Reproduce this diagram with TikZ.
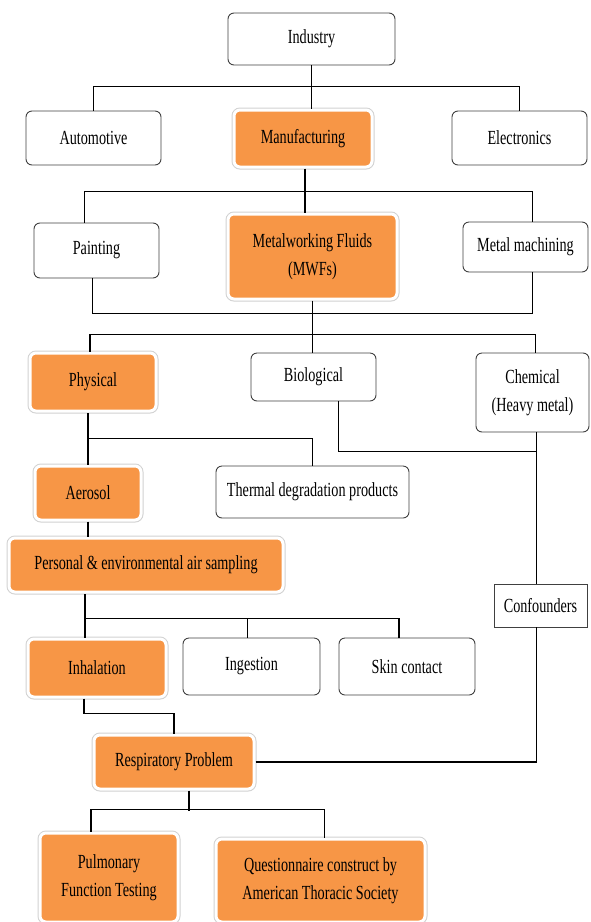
\documentclass[tikz,border=0pt]{standalone}
\usepackage{fontspec}
\setmainfont{Liberation Serif}[FakeStretch=0.71]
\usepackage{xcolor}
\usepackage{tikz}
\definecolor{mwforange}{HTML}{F79646}

\begin{document}
\begin{tikzpicture}[x=1pt, y=-1pt,
  font=\fontsize{20}{28}\selectfont,
  plain/.style={draw=black!75, line width=0.9pt, rounded corners=6pt, fill=white, align=center, inner sep=2pt},
  hot/.style={fill=mwforange, draw=white, line width=3pt, rounded corners=6pt, preaction={draw=black!18, line width=5pt}, align=center, inner sep=2pt},
  wire/.style={line width=1.6pt, black}]

\useasboundingbox (0,0) rectangle (590,922);

% top levels
\node[plain, minimum width=167pt, minimum height=52pt] (industry) at (311.5,39) {Industry};
\node[plain, minimum width=135pt, minimum height=54pt] (auto) at (93.5,138) {Automotive};
\node[hot, minimum width=138pt, minimum height=57pt] (manuf) at (303,138.5) {Manufacturing};
\node[plain, minimum width=135pt, minimum height=54pt] (elec) at (519.5,138) {Electronics};

\node[plain, minimum width=125pt, minimum height=55pt] (paint) at (96.5,250.5) {Painting};
\node[hot, minimum width=169pt, minimum height=85pt] (mwf) at (312.5,256.5) {Metalworking Fluids\\(MWFs)};
\node[plain, minimum width=125pt, minimum height=50pt] (mach) at (525.5,247) {Metal machining};

% hazards
\node[hot, minimum width=126pt, minimum height=58pt] (phys) at (93,382) {Physical};
\node[plain, minimum width=125pt, minimum height=48pt] (bio) at (313.5,377) {Biological};
\node[plain, minimum width=113pt, minimum height=79pt] (chem) at (532.5,392.5) {Chemical\\(Heavy metal)};

\node[hot, minimum width=106pt, minimum height=54pt] (aero) at (88,493) {Aerosol};
\node[plain, minimum width=193pt, minimum height=52pt] (thermal) at (312.5,492) {Thermal degradation products};
\node[hot, minimum width=274pt, minimum height=54pt] (samp) at (146,565) {Personal \& environmental air sampling};
\node[draw=black!75, line width=0.9pt, fill=white, inner sep=2pt, minimum width=93pt, minimum height=43pt] (conf) at (540.5,605.5) {Confounders};

% exposure routes
\node[hot, minimum width=138pt, minimum height=58pt] (inhal) at (97,668) {Inhalation};
\node[plain, minimum width=137pt, minimum height=57pt] (ingest) at (251.5,666.5) {Ingestion};
\node[plain, minimum width=136pt, minimum height=57pt] (skin) at (407,666.5) {Skin contact};

\node[hot, minimum width=160pt, minimum height=54pt] (resp) at (174,762) {Respiratory Problem};
\node[hot, minimum width=138pt, minimum height=89pt] (pulm) at (109,877.5) {Pulmonary\\Function Testing};
\node[hot, minimum width=209pt, minimum height=83pt] (quest) at (320.5,880.5) {Questionnaire construct by\\American Thoracic Society};

% connectors
\draw[wire] (industry.south) -- (industry.south |- manuf.north);
\draw[wire] (auto.north) -- ++(0,-24) -| (elec.north);

\draw[wire] ([xshift=2pt]manuf.south) -- ([xshift=2pt]manuf.south |- mwf.north);
\draw[wire] ([xshift=-12pt]paint.north) -- ++(0,-31) -| ([xshift=7pt]mach.north);
\draw[wire] ([xshift=-4pt]paint.south) -- ++(0,35) -| ([xshift=7pt]mach.south);

\draw[wire] (mwf.south) -- (mwf.south |- bio.north);
\draw[wire] ([xshift=-3pt]phys.north) -- ++(0,-17) -| ([xshift=3pt]chem.north);

\draw[wire] (aero.north) -- (aero.north |- phys.south);
\draw[wire] (thermal.north) -- ++(0,-27) -| (aero.north);
\draw[wire] ([xshift=-4pt]conf.north) -- ([xshift=-4pt]conf.north |- chem.south);
\draw[wire] ([xshift=25pt]bio.south) -- ++(0,50) -| ([xshift=-4pt]conf.north);

\draw[wire] (aero.south) -- (aero.south |- samp.north);
\draw[wire] ([xshift=-12pt]inhal.north) -- ([xshift=-12pt]inhal.north |- samp.south);
\draw[wire] ([xshift=-12pt]inhal.north) -- ++(0,-19) -| ([xshift=-8pt]skin.north);
\draw[wire] ([xshift=-4pt]ingest.north) -- ++(0,-19);

\draw[wire] ([xshift=-13pt]inhal.south) -- ++(0,15) -| (resp.north);
\draw[wire] (resp.east) -| ([xshift=-4pt]conf.south);

\draw[wire] ([xshift=15pt]resp.south) -- ++(0,20);
\draw[wire] ([xshift=-18pt]pulm.north) -- ++(0,-22) -| ([xshift=4pt]quest.north);

\end{tikzpicture}
\end{document}
